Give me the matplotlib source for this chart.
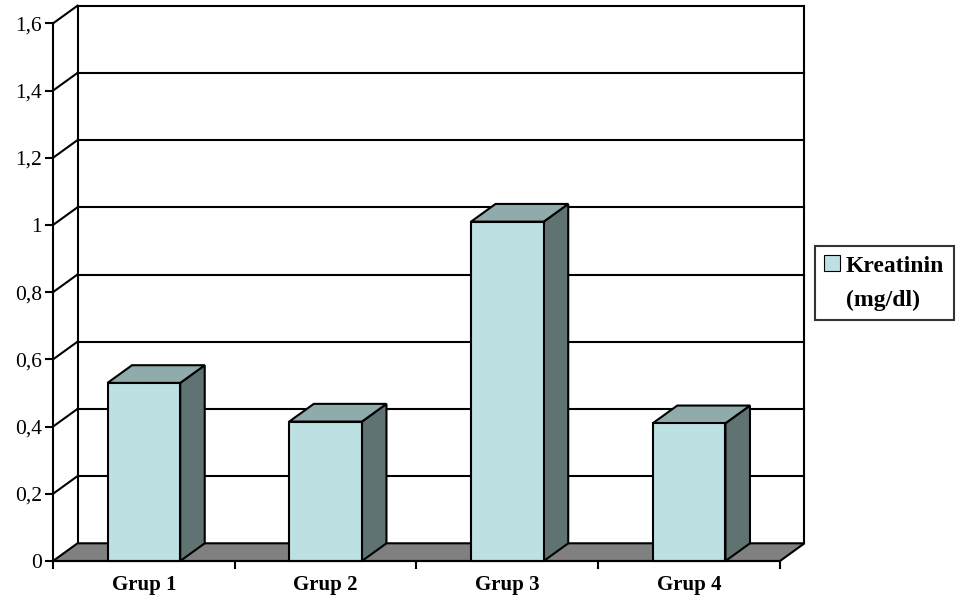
import numpy as np
import matplotlib
matplotlib.use("Agg")
import matplotlib.pyplot as plt
from matplotlib.patches import Polygon, Rectangle, Patch

# Data
categories = ["Grup 1", "Grup 2", "Grup 3", "Grup 4"]
values = [0.53, 0.415, 1.01, 0.41]
series_name = ["Kreatinin", "(mg/dl)"]
y_ticks = [0, 0.2, 0.4, 0.6, 0.8, 1.0, 1.2, 1.4, 1.6]
y_tick_labels = ["0", "0,2", "0,4", "0,6", "0,8", "1", "1,2", "1,4", "1,6"]

# Colours
front_col = "#bde0e3"
top_col = "#8fabab"
side_col = "#5f7373"
floor_col = "#808080"
lw = 1.5

plt.rcParams["font.family"] = ["Liberation Serif", "DejaVu Serif"]

fig = plt.figure(figsize=(9.62, 6.04), dpi=100)
ax = fig.add_axes([53 / 962, 43 / 604, 727 / 962, 537.6 / 604])
ax.set_xlim(0, 4)
ax.set_ylim(0, 1.6)
ax.patch.set_visible(False)

# depth offset of the back wall, in data units
dx = 24.5 / (727 / 4)
dy = 17.7 / (537.6 / 1.6)

# back wall: gridlines, edges and connectors on the left side wall
for v in y_ticks[1:]:
    ax.plot([dx, 4 + dx], [v + dy, v + dy], color="black", lw=lw, zorder=1, clip_on=False)
    ax.plot([0, dx], [v, v + dy], color="black", lw=lw, zorder=1, clip_on=False)
ax.plot([dx, dx], [dy, 1.6 + dy], color="black", lw=lw, zorder=1, clip_on=False)
ax.plot([4 + dx, 4 + dx], [dy, 1.6 + dy], color="black", lw=lw, zorder=1, clip_on=False)

# floor
ax.add_patch(Polygon([(0, 0), (4, 0), (4 + dx, dy), (dx, dy)], closed=True,
                     facecolor=floor_col, edgecolor="black", lw=lw, zorder=2, clip_on=False))

# 3D bars
width = 0.4
for i, v in enumerate(values):
    x0 = i + 0.5 - width / 2
    x1 = x0 + width
    ax.add_patch(Polygon([(x1, 0), (x1 + dx, dy), (x1 + dx, v + dy), (x1, v)], closed=True,
                         facecolor=side_col, edgecolor="black", lw=lw, zorder=3, clip_on=False))
    ax.add_patch(Polygon([(x0, v), (x1, v), (x1 + dx, v + dy), (x0 + dx, v + dy)], closed=True,
                         facecolor=top_col, edgecolor="black", lw=lw, zorder=3, clip_on=False))
    ax.add_patch(Rectangle((x0, 0), width, v, facecolor=front_col, edgecolor="black",
                           lw=lw, zorder=4, clip_on=False))

# axes styling
for s in ["top", "right"]:
    ax.spines[s].set_visible(False)
for s in ["left", "bottom"]:
    ax.spines[s].set_linewidth(lw)
    ax.spines[s].set_zorder(5)

ax.set_yticks(y_ticks)
ax.set_yticklabels(y_tick_labels, fontsize=15.5)
ax.tick_params(axis="y", direction="out", length=6, width=lw, pad=2)

ax.set_xticks([0, 1, 2, 3, 4])
ax.set_xticklabels([])
ax.tick_params(axis="x", which="major", direction="out", length=6, width=lw)
ax.set_xticks([0.5, 1.5, 2.5, 3.5], minor=True)
ax.set_xticklabels(categories, minor=True, fontsize=15, fontweight="bold")
ax.tick_params(axis="x", which="minor", length=0, pad=10)

# legend
handles = [Patch(facecolor=front_col, edgecolor="black", lw=0.8),
           Patch(visible=False)]
leg = fig.legend(handles, series_name, loc="upper left",
                 bbox_to_anchor=(815 / 962, 1 - 246 / 604), borderaxespad=0,
                 frameon=True, fancybox=False, edgecolor="black",
                 prop={"family": "Liberation Serif", "weight": "bold", "size": 17},
                 handlelength=0.65, handleheight=0.65, handletextpad=0.25,
                 labelspacing=0.55, borderpad=0.4)
leg.get_frame().set_linewidth(lw)

fig.savefig("out.png", dpi=100)
